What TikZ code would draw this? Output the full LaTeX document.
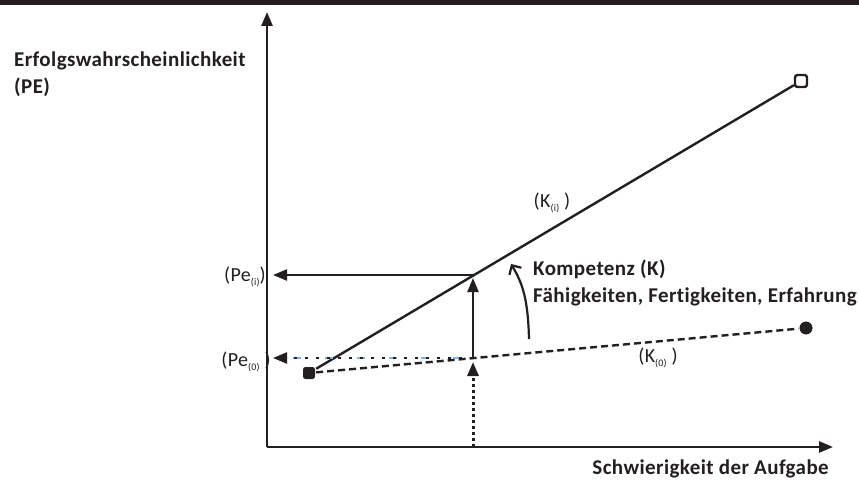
\documentclass[tikz,border=0pt]{standalone}
\usepackage{fontspec}
\setmainfont{Carlito}[LetterSpace=2, Ligatures=NoCommon]
\usepackage{xcolor}
\usepackage{tikz}
\usetikzlibrary{arrows.meta,positioning}
\definecolor{ink}{RGB}{35,31,32}
\definecolor{paleblue}{RGB}{125,180,228}
\newcommand{\lowidx}[1]{\raisebox{-0.45ex}{\fontsize{10}{10}\selectfont #1}}

\begin{document}
\begin{tikzpicture}[x=1pt, y=-1pt, color=ink, line width=2.4pt,
  axis/.style={line width=2.6pt, -{Triangle[length=14pt,width=11pt]}},
  guide/.style={line width=2.2pt, -{Triangle[length=14pt,width=11pt]}},
  head/.style={font=\fontsize{21}{27}\selectfont\bfseries, align=left, inner sep=0pt},
  lbl/.style={font=\fontsize{20}{24}\selectfont, inner sep=0pt},
  knot/.style={inner sep=0pt, minimum size=12pt, rounded corners=2.5pt, line width=2.4pt}]
\useasboundingbox (0,0) rectangle (859,481);
\fill (0,0) rectangle (859,5);
% axes
\coordinate (o) at (267,447);
\coordinate (ytop) at (267,12);
\coordinate (xend) at (833,447);
\draw[axis] (o) -- (ytop);
\draw[axis] (o) -- (xend);
% the two lines
\node[knot, fill=ink] (s0) at (309,373) {};
\node[knot, draw] (ki) at (801,81) {};
\node[circle, fill=ink, minimum size=13pt, inner sep=0pt] (k0) at (806,328) {};
\draw (s0) -- (ki);
\draw[dash pattern=on 7pt off 4pt] (s0) -- (k0);
% read-off arrows
\coordinate (mi) at (473,275);
\coordinate (m0) at (473,358);
\coordinate (ai) at (273,275);
\coordinate (a0) at (273,358);
\coordinate (xm) at (473,447);
\draw[guide] (mi) -- (ai);
\draw[paleblue, line width=2pt, dash pattern=on 8pt off 24pt, dash phase=20pt] (m0) -- (a0);
\draw[guide, dash pattern=on 3pt off 8pt] (m0) -- (a0);
\draw[guide, shorten >=3pt] (m0) -- (mi);
\draw[guide, line width=3pt, dash pattern=on 3pt off 3pt, shorten >=4pt] (xm) -- (m0);
% competence arrow
\coordinate (c1) at (529,339);
\coordinate (c2) at (511,264);
\draw[line width=2.2pt, -{Straight Barb[length=7pt,width=14pt]}] (c1) .. controls (528,300) and (523,284) .. (c2);
% texts
\node[head, anchor=north west] (pe) at (13,51) {Erfolgswahrscheinlichkeit\\(PE)};
\node[head, anchor=base east] (sa) at (830,474) {Schwierigkeit der Aufgabe};
\node[head, anchor=north west] (kk) at (532,259) {Kompetenz (K)\\Fähigkeiten, Fertigkeiten, Erfahrung};
\node[lbl] (lki) at (552,203) {(K\lowidx{(i)} )};
\node[lbl] (lk0) at (658,358) {(K\lowidx{(0)} )};
\node[lbl] (lpi) at (245,277) {(Pe\lowidx{(i)})};
\node[lbl] (lp0) at (246,362) {(Pe\lowidx{(0)} )};
\end{tikzpicture}
\end{document}
